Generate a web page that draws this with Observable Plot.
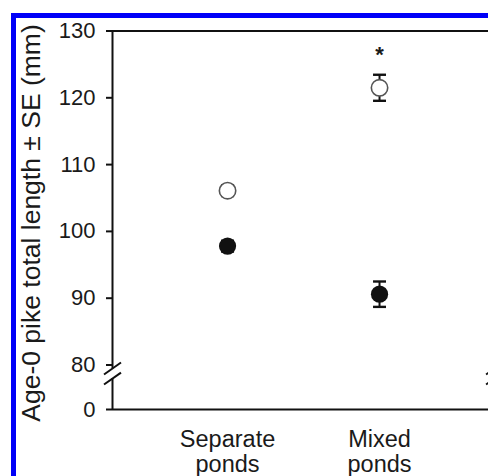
<!DOCTYPE html>
<html><head><meta charset="utf-8">
<script src="https://cdn.jsdelivr.net/npm/d3@7"></script>
<script src="https://cdn.jsdelivr.net/npm/@observablehq/plot@0.6"></script>
<style>
html,body{margin:0;padding:0;background:#fff;overflow:hidden;}
#wrap{position:relative;width:488px;height:476px;overflow:hidden;}
#chart{position:absolute;left:0;top:0;}
#border{position:absolute;left:11px;top:13px;right:-10px;bottom:-10px;border-left:5px solid #0000f8;border-top:5px solid #0000f8;pointer-events:none;}
#chart g[aria-label="y-axis tick label"], #chart g[aria-label="y-axis tick label"] text{font-size:22px !important;}
#chart g[aria-label="x-axis tick label"], #chart g[aria-label="x-axis tick label"] text{font-size:23.5px !important;}
</style></head><body><div id="wrap"><div id="chart"></div><div id="border"></div></div>
<script>
// ---- data ----
const categories = ["Separate\nponds", "Mixed\nponds"];
const openMean   = [106.1, 121.5];
const openSE     = [0.8, 1.95];
const filledMean = [97.8, 90.6];
const filledSE   = [0.8, 1.9];
const significance = ["", "*"];
const yTicks = [0, 80, 90, 100, 110, 120, 130];
const yLabel = "Age-0 pike total length ± SE (mm)";

// ---- table built from the arrays ----
const openRows = categories.map((c, i) => ({pos: i + 1, mean: openMean[i], se: openSE[i], sig: significance[i]}));
const filledRows = categories.map((c, i) => ({pos: i + 1, mean: filledMean[i], se: filledSE[i]}));
const allRows = openRows.concat(filledRows);

const xMin = 0.243, xMax = 2.717;
const breakHi = 73.7, breakLo = 55.7;

const hbar = {draw(ctx, size) { const r = Math.sqrt(size / Math.PI); ctx.moveTo(-r, 0); ctx.lineTo(r, 0); }};
const slash = {draw(ctx, size) { const r = Math.sqrt(size / Math.PI); ctx.moveTo(-r, r * 0.7); ctx.lineTo(r, -r * 0.7); }};

const chart = Plot.plot({
  width: 488, height: 476,
  marginLeft: 112, marginRight: 0, marginTop: 30, marginBottom: 67,
  style: {fontFamily: "'Liberation Sans', Arial, sans-serif", background: "transparent", color: "#1a1a1a", fontSize: "22px"},
  x: {type: "linear", domain: [xMin, xMax]},
  y: {type: "linear", domain: [0, 80, 130], range: [409, 364.5, 30.5]},
  marks: [
    Plot.ruleY([130, 0], {stroke: "#111", strokeWidth: 2}),
    Plot.ruleX([[130, breakHi], [breakLo, 0]], {x: () => xMin, y1: d => d[0], y2: d => d[1], stroke: "#111", strokeWidth: 2}),
    Plot.dot([breakHi, breakLo], {x: () => xMin, y: d => d, symbol: slash, r: 8.5, stroke: "#111", strokeWidth: 2, fill: "none"}),
    Plot.dot([breakHi, breakLo], {x: () => xMax + 0.04, y: d => d, symbol: slash, r: 8.5, stroke: "#111", strokeWidth: 2, fill: "none"}),
    Plot.axisY({ticks: yTicks, tickSize: 6, tickPadding: 11, label: null, strokeWidth: 2, stroke: "#111", fill: "#1a1a1a"}),
    Plot.axisX({ticks: [1, 2], tickFormat: i => categories[i - 1], tickSize: 0, tickPadding: 20, lineHeight: 1.07, label: null, fill: "#1a1a1a"}),
    Plot.text([yLabel], {frameAnchor: "left", textAnchor: "middle", rotate: -90, dx: -81, dy: 3, fontSize: 26.5, fill: "#1a1a1a", lineAnchor: "middle"}),
    // error bars
    Plot.ruleX(allRows, {x: "pos", y1: d => d.mean - d.se, y2: d => d.mean + d.se, stroke: "#111", strokeWidth: 2}),
    Plot.dot(allRows, {x: "pos", y: d => d.mean + d.se, symbol: hbar, r: 6.5, stroke: "#111", strokeWidth: 2.4, fill: "none"}),
    Plot.dot(allRows, {x: "pos", y: d => d.mean - d.se, symbol: hbar, r: 6.5, stroke: "#111", strokeWidth: 2.4, fill: "none"}),
    // means
    Plot.dot(openRows, {x: "pos", y: "mean", r: 8.2, fill: "white", stroke: "#555", strokeWidth: 1.6}),
    Plot.dot(filledRows, {x: "pos", y: "mean", r: 8.6, fill: "#111", stroke: "none"}),
    // significance
    Plot.text(openRows, {x: "pos", y: d => d.mean + d.se + 3.0, text: "sig", fontSize: 22, fontWeight: "bold", fill: "#1a1a1a", lineAnchor: "middle"})
  ]
});
document.getElementById("chart").append(chart);
</script>
</body></html>
